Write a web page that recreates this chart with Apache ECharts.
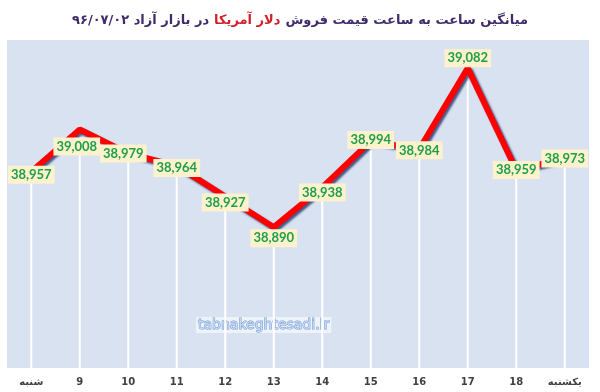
<!DOCTYPE html>
<html>
<head>
<meta charset="utf-8">
<script src="https://cdn.jsdelivr.net/npm/echarts@6/dist/echarts.min.js"></script>
<style>html,body{margin:0;padding:0;background:#fff;}#c{width:600px;height:392px;}</style>
</head>
<body>
<div id="c"></div>
<script>
// ---- data ----
var categories = ['شنبه', '9', '10', '11', '12', '13', '14', '15', '16', '17', '18', 'یکشنبه'];
var prices = [38957, 39008, 38979, 38964, 38927, 38890, 38938, 38994, 38984, 39082, 38959, 38973];
var titleLeft = 'در بازار آزاد ۹۶/۰۷/۰۲';
var titleRed = 'دلار آمریکا';
var titleRight = 'میانگین ساعت به ساعت قیمت فروش';
var watermark = 'tabnakeghtesadi.ir';
// label nudges (style only)
var labelShift = [[0,3],[-3,17],[-5,0],[0,2],[0,6],[0,11],[0,5],[0,-1],[0,1],[0,-10],[0,0],[0,0]];

var chart = echarts.init(document.getElementById('c'), null, {renderer: 'canvas'});
var lineData = prices.map(function (v, i) {
  return { value: v, label: { offset: labelShift[i] } };
});
chart.setOption({
  animation: false,
  backgroundColor: '#ffffff',
  title: {
    text: '{p|' + titleLeft + '} {r|' + titleRed + '} {p|' + titleRight + '}',
    left: 'center',
    top: 7,
    textStyle: {
      rich: {
        p: { fontFamily: 'DejaVu Sans', fontWeight: 'bold', fontSize: 13, color: '#3f2c6b' },
        r: { fontFamily: 'DejaVu Sans', fontWeight: 'bold', fontSize: 13, color: '#d0202a' }
      }
    }
  },
  grid: {
    left: 7, right: 11, top: 40, bottom: 24,
    show: true, backgroundColor: '#d9e2f1', borderWidth: 0
  },
  xAxis: {
    type: 'category',
    data: categories,
    axisLine: { show: false },
    axisTick: { show: false },
    axisLabel: {
      margin: 9,
      fontFamily: 'DejaVu Sans', fontSize: 10, fontWeight: 'bold', color: '#404040'
    }
  },
  yAxis: {
    type: 'value',
    min: 38720, max: 39116,
    show: false,
    splitLine: { show: false }
  },
  graphic: [{
    type: 'text',
    left: 196, top: 317,
    z: 1,
    style: {
      text: watermark,
      fontFamily: 'DejaVu Sans', fontSize: 14,
      fill: '#c9d9f0', stroke: '#6f9bd6', lineWidth: 1,
      backgroundColor: 'rgba(255,255,255,0.55)',
      padding: [1, 2]
    }
  }],
  series: [{
    type: 'bar',
    data: prices,
    barWidth: 2,
    z: 2,
    itemStyle: { color: '#ffffff' },
    silent: true
  }, {
    type: 'line',
    data: lineData,
    z: 3,
    symbol: 'circle',
    symbolSize: 1,
    showSymbol: true,
    itemStyle: { color: '#ff0000' },
    lineStyle: {
      color: '#ff0000', width: 6,
      shadowColor: 'rgba(31,56,110,0.8)', shadowOffsetX: 2, shadowOffsetY: 2, shadowBlur: 2
    },
    label: {
      show: true,
      position: 'inside',
      formatter: function (p) { return Number(p.value).toLocaleString('en-US'); },
      fontFamily: 'Lato', fontWeight: 'bold', fontSize: 13,
      color: '#1f9e48',
      backgroundColor: '#fdf2cd',
      padding: [3, 3, 2, 3]
    }
  }]
});
</script>
</body>
</html>
